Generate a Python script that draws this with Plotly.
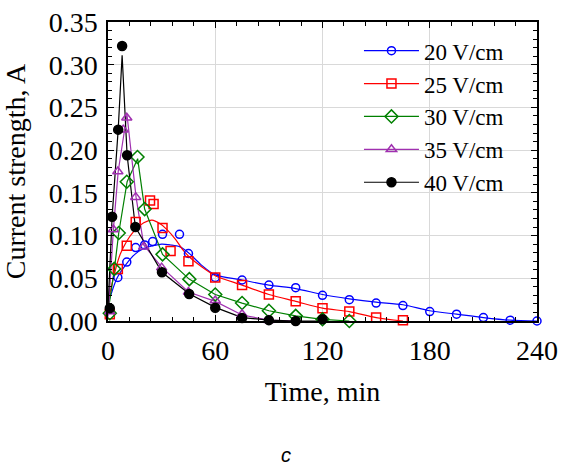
import plotly.graph_objects as go

# ---- data ----
names = ["20 V/cm", "25 V/cm", "30 V/cm", "35 V/cm", "40 V/cm"]

t20 = [5.5, 10.5, 15.5, 20.5, 25, 30.5, 40, 45, 60, 75, 90, 105, 120, 135, 150, 165, 180, 195, 210, 225, 240]
i20 = [0.051, 0.069, 0.086, 0.089, 0.093, 0.1015, 0.1015, 0.079, 0.051, 0.048, 0.042, 0.039, 0.030, 0.025, 0.021, 0.018, 0.011, 0.008, 0.004, 0.001, 0.0]

t25 = [1, 5.5, 10.5, 15.5, 23.5, 25.5, 30.5, 35, 45, 60, 75, 90, 105, 120, 135, 150, 165]
i25 = [0.008, 0.061, 0.088, 0.116, 0.141, 0.137, 0.109, 0.082, 0.070, 0.051, 0.042, 0.031, 0.023, 0.015, 0.011, 0.004, 0.001]

t30 = [1, 3.5, 6, 10.5, 16.5, 20.5, 30.5, 45.5, 60, 75, 90, 105, 120, 135]
i30 = [0.009, 0.061, 0.103, 0.163, 0.192, 0.131, 0.078, 0.049, 0.031, 0.021, 0.012, 0.006, 0.002, 0.0]

t35 = [1, 3, 5.5, 8.5, 10.5, 15.5, 20, 30, 45, 60, 75, 90]
i35 = [0.011, 0.107, 0.175, 0.224, 0.238, 0.145, 0.087, 0.0625, 0.034, 0.024, 0.008, 0.001]

t40 = [1, 2.3, 5.7, 7.9, 10.7, 15.3, 30.2, 45.4, 60, 75, 90, 105, 120]
i40 = [0.015, 0.122, 0.224, 0.322, 0.194, 0.110, 0.057, 0.0316, 0.0156, 0.0035, 0.001, 0.0, 0.002]

# fitted curves
ft20 = [0, 1.5, 5, 10, 15, 20, 25, 30, 35, 40, 45, 52, 60, 75, 90, 105, 120, 135, 150, 165, 180, 195, 210, 225, 240]
fi20 = [0.02, 0.03, 0.05, 0.066, 0.078, 0.085, 0.088, 0.09, 0.089, 0.087, 0.080, 0.066, 0.054, 0.048, 0.042, 0.038, 0.031, 0.026, 0.022, 0.019, 0.012, 0.008, 0.004, 0.001, 0.0]

ft25 = [0, 1, 7, 14.4, 20, 24.6, 29, 33, 38, 42, 46, 52, 60, 75, 90, 105, 120, 135, 150, 165]
fi25 = [0.02, 0.032, 0.079, 0.105, 0.115, 0.118, 0.114, 0.107, 0.095, 0.083, 0.074, 0.064, 0.053, 0.042, 0.031, 0.023, 0.015, 0.011, 0.004, 0.0]

ft30 = [0, 3.6, 6, 10.7, 16.6, 20.5, 30.5, 45.4, 60, 75, 90, 105, 120, 135]
fi30 = [0.01, 0.061, 0.103, 0.163, 0.19, 0.131, 0.078, 0.049, 0.031, 0.021, 0.012, 0.006, 0.002, 0.0]

ft35 = [0, 3, 5.7, 10.6, 15.7, 20, 30, 45, 60, 75, 90, 105]
fi35 = [0.005, 0.107, 0.175, 0.242, 0.145, 0.089, 0.063, 0.034, 0.023, 0.007, 0.001, 0.0]

ft40 = [0, 2.3, 5.7, 7.9, 10.7, 15.3, 30.2, 45.4, 60, 75, 90, 105, 120]
fi40 = [0.015, 0.122, 0.224, 0.311, 0.194, 0.11, 0.057, 0.032, 0.016, 0.004, 0.001, 0.0, 0.0]

x_ticks = [0, 60, 120, 180, 240]
y_ticks = [0.00, 0.05, 0.10, 0.15, 0.20, 0.25, 0.30, 0.35]

# ---- styles ----
colors = ["#0000FF", "#FF0000", "#008000", "#A030B0", "#000000"]
symbols = ["circle-open", "square-open", "diamond-open", "triangle-up-open", "circle"]
msizes = [8, 9, 10, 9, 9]
shapes = ["spline", "spline", "linear", "linear", "linear"]

pts = [(t20, i20), (t25, i25), (t30, i30), (t35, i35), (t40, i40)]
fits = [(ft20, fi20), (ft25, fi25), (ft30, fi30), (ft35, fi35), (ft40, fi40)]

fig = go.Figure()
for k in range(5):
    fx, fy = fits[k]
    fig.add_trace(go.Scatter(x=fx, y=fy, mode="lines", showlegend=False,
                             line=dict(color=colors[k], width=1.2, shape=shapes[k], smoothing=0.8),
                             hoverinfo="skip"))
for k in range(5):
    px, py = pts[k]
    fig.add_trace(go.Scatter(x=px, y=py, mode="markers", showlegend=False,
                             marker=dict(symbol=symbols[k], size=msizes[k], color=colors[k],
                                         line=dict(color=colors[k], width=1.5)),
                             cliponaxis=False))
for k in range(5):
    fig.add_trace(go.Scatter(x=[None], y=[None], mode="lines+markers", name=names[k],
                             line=dict(color=colors[k], width=1.2),
                             marker=dict(symbol=symbols[k], size=msizes[k], color=colors[k],
                                         line=dict(color=colors[k], width=1.5))))

font_family = "Liberation Serif, Times New Roman, serif"
axis_common = dict(showline=True, linecolor="black", linewidth=1.5, mirror="ticks",
                   ticks="inside", ticklen=6, tickcolor="black", tickwidth=1,
                   showgrid=True, gridcolor="#d9d9d9", gridwidth=1, zeroline=False,
                   automargin=False, ticklabeloverflow="allow",
                   tickfont=dict(family=font_family, size=28, color="black"))

fig.update_xaxes(range=[0, 240], tickvals=x_ticks, ticktext=[str(v) for v in x_ticks],
                 minor=dict(dtick=12, tick0=0, ticks="inside", ticklen=4, tickcolor="black", showgrid=False),
                 title=dict(text="Time, min", font=dict(family=font_family, size=28, color="black"), standoff=16),
                 ticklabelstandoff=4, **axis_common)
fig.update_yaxes(range=[0, 0.35], tickvals=y_ticks, ticktext=["%.2f" % v for v in y_ticks],
                 minor=dict(dtick=0.01, tick0=0, ticks="inside", ticklen=4, tickcolor="black", showgrid=False),
                 title=dict(text="Current strength, A", font=dict(family=font_family, size=28, color="black"), standoff=19),
                 ticklabelstandoff=3, **axis_common)

fig.update_layout(
    width=561, height=465,
    margin=dict(l=107.5, r=24, t=22, b=144),
    paper_bgcolor="white", plot_bgcolor="white",
    legend=dict(x=0.585, y=0.976, xanchor="left", yanchor="top", bgcolor="rgba(0,0,0,0)",
                font=dict(family=font_family, size=23, color="black"),
                itemwidth=55, tracegroupgap=0),
    annotations=[dict(text="<i>c</i>", x=0.4156, y=-0.448, xref="paper", yref="paper", showarrow=False,
                      xanchor="center", yanchor="middle",
                      font=dict(family="Liberation Sans, Arial, sans-serif", size=20, color="black"))],
)

fig.write_html("out.html", config={"displayModeBar": False},
               post_script="document.body.style.margin='0';document.body.style.overflow='hidden';")
